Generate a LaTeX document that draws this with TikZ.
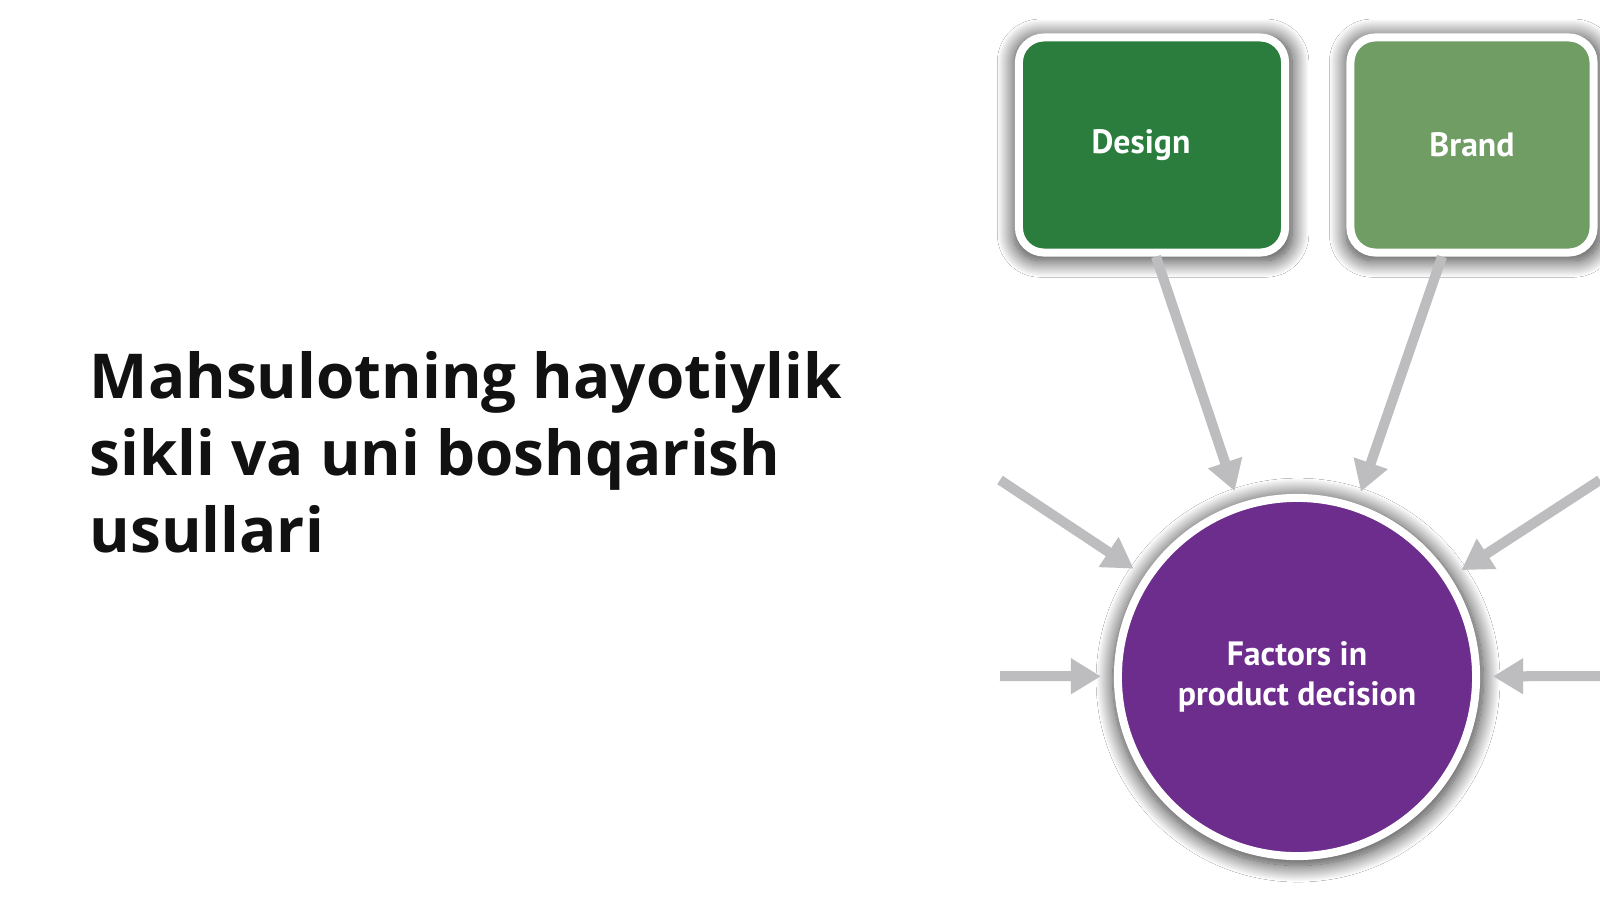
\documentclass[tikz,border=0pt]{standalone}
\usepackage{fontspec}
\newfontfamily\titlefont{Open Sans}
\newfontfamily\labelfont{PT Sans}
\usetikzlibrary{arrows.meta,shadows.blur}
\definecolor{designgreen}{HTML}{2B7D3E}
\definecolor{brandgreen}{HTML}{6F9D64}
\definecolor{hubpurple}{HTML}{6C2D8C}
\definecolor{feedgray}{HTML}{BDBDC0}
\definecolor{titleink}{HTML}{111111}
\begin{document}
\begin{tikzpicture}
  [x=0.01cm,y=-0.01cm,
   every node/.style={font=\labelfont\bfseries\fontsize{9.6}{11.5}\selectfont,text=white,align=center},
   title/.style={font=\titlefont\bfseries\fontsize{17.6}{22}\selectfont,text=titleink,anchor=base west,inner sep=0pt},
   soft/.style={blur shadow={shadow xshift=0.01cm,shadow yshift=-0.03cm,shadow scale=#1,shadow blur steps=24,shadow blur radius=0.16cm,shadow opacity=80}},
   factor/.style={rectangle,rounded corners=0.25cm,draw=white,line width=0.08cm,minimum height=2.15cm,soft=1.045},
   hub/.style={circle,draw=white,line width=0.08cm,minimum size=3.58cm,fill=hubpurple,soft=1.035},
   feed/.style={draw=feedgray,line width=0.1cm,-{Triangle[length=0.3cm,width=0.34cm]},shorten >=0.13cm}]

  \fill[white] (0,0) rectangle (1600,900);
  \useasboundingbox (0,0) rectangle (1600,900);

  % title
  \node [title] (title1) at (89,398) {Mahsulotning hayotiylik};
  \node [title] (title2) at (89,475) {sikli va uni boshqarish};
  \node [title] (title3) at (89,552) {usullari};

  % factors
  \node [factor,fill=designgreen,minimum width=2.66cm,text width=2.4cm] (design) at (1152,145) {\hspace*{-0.22cm}Design};
  \node [factor,fill=brandgreen,minimum width=2.43cm] (brand) at (1472,145) {Brand};
  \node [hub] (hub) at (1297,677) {Factors in\\product decision};

  \coordinate (upleft) at (1000,480);
  \coordinate (midleft) at (1000,676);
  \coordinate (upright) at (1600,480);
  \coordinate (midright) at (1600,676);

  \draw [feed] ([xshift=0.04cm]design.south) -- (hub);
  \draw [feed] ([xshift=-0.3cm]brand.south) -- (hub);
  \foreach \from in {upleft,midleft,upright,midright}
    \draw [feed] (\from) -- (hub);
\end{tikzpicture}
\end{document}
